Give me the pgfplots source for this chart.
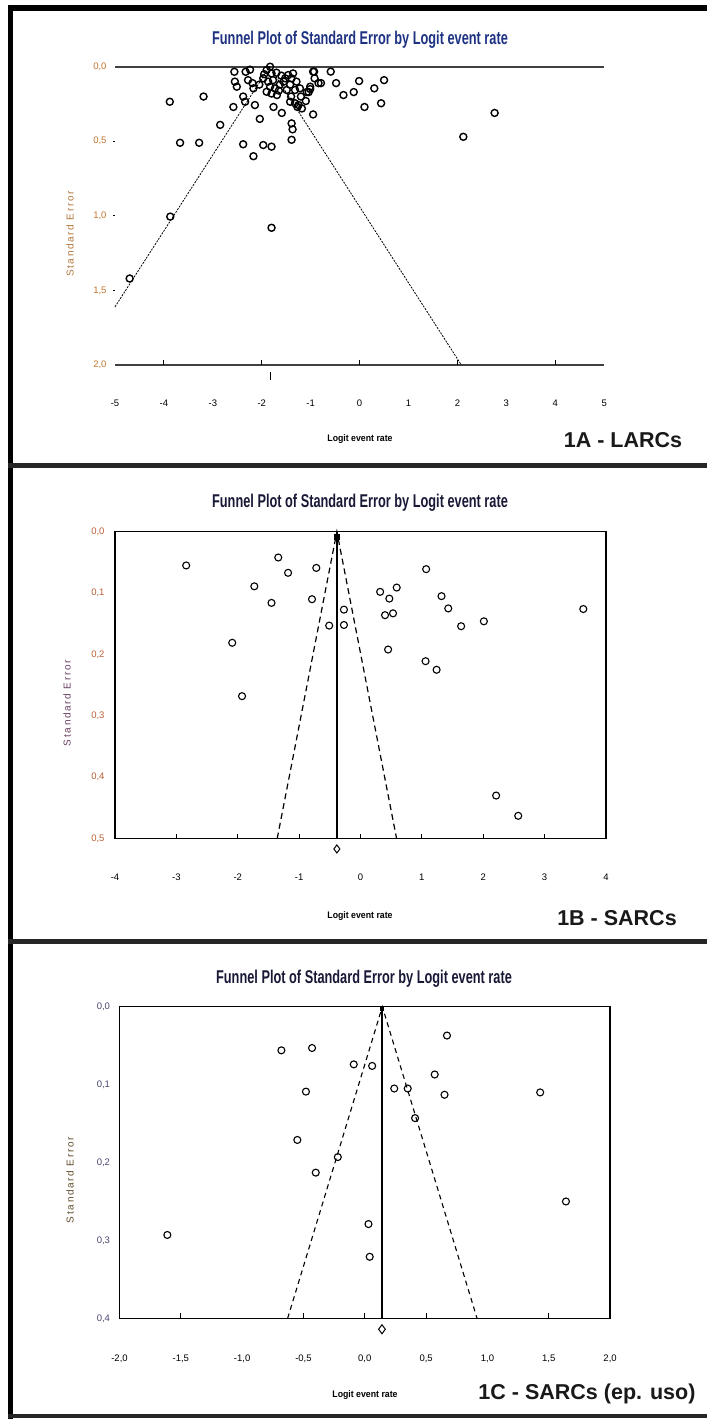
\documentclass[border=0pt]{standalone}
\usepackage{fontspec}
\setmainfont{Liberation Sans}
\newfontfamily\titlefont[FakeStretch=0.69]{Liberation Sans}
\newfontfamily\ylabfont[LetterSpace=17]{Liberation Sans}
\newfontfamily\xlabfont[FakeStretch=0.92]{Liberation Sans}
\usepackage{pgfplots}
\pgfplotsset{compat=1.18}
\usepackage{pgfplotstable}

\definecolor{titleblue}{RGB}{30,50,130}
\definecolor{titledark}{RGB}{25,25,55}
\definecolor{ticko}{RGB}{195,115,45}
\definecolor{labo}{RGB}{175,115,55}
\definecolor{tickb}{RGB}{185,95,55}
\definecolor{labb}{RGB}{105,60,95}
\definecolor{tickc}{RGB}{70,70,110}
\definecolor{labc}{RGB}{95,75,40}

\pgfplotstableread{
x se
-3.88 0.235
-3.19 0.20
-2.85 0.39
-3.67 0.51
-3.28 0.51
-2.38 0.52
-2.17 0.60
-1.97 0.525
-1.80 0.536
-2.04 0.35
-2.14 0.257
-2.58 0.27
-2.38 0.20
-2.34 0.235
-1.76 0.27
-1.59 0.31
-1.39 0.38
-1.37 0.42
-1.39 0.49
-0.95 0.32
-1.27 0.27
-1.42 0.235
-1.32 0.245
-1.18 0.28
-3.87 1.005
-1.80 1.08
-4.70 1.42
2.12 0.47
2.76 0.31
0.10 0.27
0.44 0.245
0.50 0.09
0.30 0.145
-0.01 0.096
-0.12 0.17
-0.33 0.19
-0.48 0.11
-0.59 0.033
-0.79 0.11
-0.93 0.033
-1.01 0.15
-1.08 0.17
-0.84 0.11
-0.92 0.078
-2.56 0.034
-2.33 0.034
-2.24 0.02
-2.55 0.10
-2.28 0.09
-2.17 0.145
-2.51 0.134
-2.19 0.11
-1.97 0.078
-1.83 0.0
-1.90 0.022
-1.80 0.045
-1.87 0.10
-1.77 0.09
-1.83 0.134
-1.73 0.145
-1.90 0.168
-1.80 0.18
-1.69 0.19
-1.63 0.12
-1.52 0.078
-1.46 0.056
-1.39 0.078
-1.36 0.045
-1.29 0.10
-1.42 0.12
-1.49 0.156
-1.32 0.156
-1.22 0.145
-1.25 0.257
-1.01 0.134
-1.04 0.17
-0.95 0.033
-1.60 0.06
-1.70 0.04
-1.55 0.10
-1.95 0.05
-2.05 0.12
-1.65 0.16
-1.40 0.20
-1.20 0.20
-1.10 0.23
}\dataA

\pgfplotstableread{
x se
-2.84 0.055
-1.34 0.042
-1.18 0.067
-0.72 0.059
-1.73 0.089
-1.45 0.116
-0.79 0.11
-2.09 0.181
-1.93 0.268
-0.51 0.153
-0.27 0.127
-0.27 0.152
1.07 0.061
0.59 0.091
0.32 0.098
0.47 0.109
0.40 0.136
0.53 0.133
1.32 0.105
1.43 0.125
1.64 0.154
2.01 0.146
0.45 0.192
1.06 0.211
1.24 0.225
3.63 0.126
2.21 0.43
2.57 0.463
}\dataB

\pgfplotstableread{
x se
0.67 0.037
-0.68 0.056
-0.43 0.053
-0.09 0.074
0.06 0.076
0.57 0.087
-0.48 0.109
0.24 0.105
0.35 0.105
0.65 0.113
1.43 0.110
0.41 0.143
-0.55 0.171
-0.22 0.193
-0.40 0.213
1.64 0.250
0.03 0.279
-1.61 0.293
0.04 0.321
}\dataC

\pgfplotsset{
  funnel/.style={
    scale only axis, anchor=south west, y dir=reverse, clip=false,
    major tick length=0pt,
    /pgf/number format/assume math mode=true,
    tick label style={font=\fontsize{9.5}{10}\selectfont},
    yticklabel style={/pgf/number format/fixed, /pgf/number format/fixed zerofill, /pgf/number format/precision=1, /pgf/number format/use comma},
  },
  pts/.style={only marks, mark=o, mark size=3.5pt, mark options={line width=1.2pt, black}},
}

\begin{document}
\begin{tikzpicture}[x=1pt,y=1pt]
\path[use as bounding box] (0,0) rectangle (707,-1419);

% frames
\fill[black] (8,-5) rectangle (13,-1419);
\fill[black] (8,-5) rectangle (707,-11);
\fill[black!85] (8,-462.5) rectangle (707,-467.5);
\fill[black!85] (8,-939) rectangle (707,-943.5);
\fill[black!85] (8,-1413.5) rectangle (707,-1417.5);

% ---------- 1A ----------
\begin{axis}[funnel,
  at={(115pt,-365pt)}, width=489.2pt, height=298.3pt,
  xmin=-5, xmax=5, ymin=0, ymax=2,
  axis line style={draw=none},
  xtick={-5,-4,...,5}, ytick={0,0.5,1,1.5,2},
  xticklabel style={yshift=-31pt},
  yticklabel style={xshift=-5pt, text=ticko},
]
\draw[line width=2pt, black!75] (axis cs:-5,0) -- (axis cs:5,0);
\draw[line width=2pt, black!75] (axis cs:-5,2) -- (axis cs:5,2);
\pgfplotsinvokeforeach{-4,-2,0,2,4}{\draw[line width=1pt] (axis cs:#1,2) -- ++(0pt,5pt);}
\pgfplotsinvokeforeach{0.5,1,1.5}{\draw[line width=1pt] (axis cs:-5,#1) -- ++(-2.5pt,0pt);}
\addplot[black, line width=0.8pt, dash pattern=on 2pt off 1.2pt] coordinates {(-5,1.61) (-1.84,0) (2.08,2.0)};
\addplot[pts, mark options={line width=1.4pt, black}] table[x=x, y=se] {\dataA};
\addplot[black, line width=1.2pt] coordinates {(-1.82,2.045) (-1.82,2.10)};
\end{axis}

\node[font=\titlefont\bfseries\fontsize{18.5}{20}\selectfont, text=titleblue] at (360,-40) {Funnel Plot of Standard Error by Logit event rate};
\node[rotate=90, font=\ylabfont\fontsize{10}{12}\selectfont, text=labo] at (70,-234) {Standard Error};
\node[font=\xlabfont\bfseries\fontsize{9.5}{11}\selectfont] at (360,-439) {Logit event rate};
\node[font=\bfseries\fontsize{21.5}{24}\selectfont, text=black!90] at (623,-440) {1A - LARCs};

% ---------- 1B ----------
\begin{axis}[funnel,
  at={(115pt,-838.5pt)}, width=491pt, height=306.8pt,
  xmin=-4, xmax=4, ymin=0, ymax=0.5,
  axis line style={line width=1.5pt},
  xtick={-4,-3,...,4}, ytick={0,0.1,0.2,0.3,0.4,0.5},
  xticklabel style={yshift=-32pt},
  yticklabel style={xshift=-7pt, text=tickb},
]
\pgfplotsinvokeforeach{-3,-2,-1,0,1,2,3}{\draw[line width=1pt] (axis cs:#1,0.5) -- ++(0pt,5pt);}
\addplot[black, line width=1.5pt] coordinates {(-0.385,0) (-0.385,0.5)};
\addplot[black, line width=1.2pt, dash pattern=on 6pt off 4pt] coordinates {(-1.357,0.5) (-0.385,0) (0.588,0.5)};
\addplot[pts, mark options={line width=1.1pt, black}] table[x=x, y=se] {\dataB};
\addplot[only marks, mark=square*, mark size=2.5pt, black] coordinates {(-0.385,0.008)};
\addplot[only marks, mark=diamond, mark size=4pt, mark options={line width=1pt, black}] coordinates {(-0.385,0.517)};
\end{axis}

\node[font=\titlefont\bfseries\fontsize{18.5}{20}\selectfont, text=titledark] at (360,-503) {Funnel Plot of Standard Error by Logit event rate};
\node[rotate=90, font=\ylabfont\fontsize{10}{12}\selectfont, text=labb] at (67,-703) {Standard Error};
\node[font=\xlabfont\bfseries\fontsize{9.5}{11}\selectfont] at (360,-916) {Logit event rate};
\node[font=\bfseries\fontsize{21.5}{24}\selectfont, text=black!90] at (617,-918) {1B - SARCs};

% ---------- 1C ----------
\begin{axis}[funnel,
  at={(119.5pt,-1318.3pt)}, width=490.6pt, height=311.6pt,
  xmin=-2, xmax=2, ymin=0, ymax=0.4,
  axis line style={line width=1.5pt},
  xtick={-2,-1.5,-1,-0.5,0,0.5,1,1.5,2}, ytick={0,0.1,0.2,0.3,0.4},
  xticklabel style={yshift=-33pt, /pgf/number format/fixed, /pgf/number format/fixed zerofill, /pgf/number format/precision=1, /pgf/number format/use comma},
  yticklabel style={xshift=-6pt, text=tickc},
]
\pgfplotsinvokeforeach{-1.5,-0.5,0,0.5,1.5}{\draw[line width=1pt] (axis cs:#1,0.4) -- ++(0pt,5pt);}
\addplot[black, line width=1.3pt] coordinates {(0.14,0) (0.14,0.4)};
\addplot[black, line width=1.1pt, dash pattern=on 5pt off 4pt] coordinates {(-0.629,0.4) (0.143,0) (0.915,0.4)};
\addplot[pts, mark options={line width=1.1pt, black}] table[x=x, y=se] {\dataC};
\addplot[only marks, mark=square*, mark size=1.5pt, black] coordinates {(0.14,0.003)};
\addplot[only marks, mark=diamond, mark size=4.5pt, mark options={line width=1pt, black}] coordinates {(0.14,0.414)};
\end{axis}

\node[font=\titlefont\bfseries\fontsize{18.5}{20}\selectfont, text=titledark] at (364,-979) {Funnel Plot of Standard Error by Logit event rate};
\node[rotate=90, font=\ylabfont\fontsize{10}{12}\selectfont, text=labc] at (70,-1180) {Standard Error};
\node[font=\xlabfont\bfseries\fontsize{9.5}{11}\selectfont] at (365,-1395) {Logit event rate};
\node[font=\bfseries\fontsize{21.5}{24}\selectfont, text=black!90] at (587,-1394) {1C - SARCs (ep. uso)};
\end{tikzpicture}
\end{document}
